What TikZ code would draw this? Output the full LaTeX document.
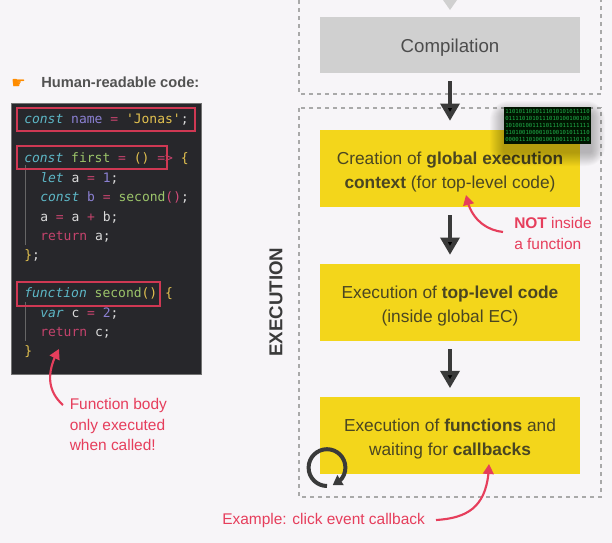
\documentclass[tikz,border=0pt]{standalone}
\usepackage{fontspec}
\setmainfont{Liberation Sans}
\setmonofont{DejaVu Sans Mono}
\newfontfamily\handfont{DejaVu Sans}
\usetikzlibrary{positioning, arrows.meta, bending}

\definecolor{bgcol}{HTML}{F7F5F8}
\definecolor{dashcol}{HTML}{A9A9A9}
\definecolor{graycol}{HTML}{D0D0D0}
\definecolor{yellowcol}{HTML}{F3D61B}
\definecolor{inkcol}{HTML}{4A4622}
\definecolor{darkcol}{HTML}{3A3A3A}
\definecolor{redcol}{HTML}{E63E5C}
\definecolor{panelcol}{HTML}{27272B}
\definecolor{cyancol}{HTML}{5DB7C6}
\definecolor{purplecol}{HTML}{8B80D2}
\definecolor{pinkcol}{HTML}{C4436C}
\definecolor{goldcol}{HTML}{E2C14F}
\definecolor{greencol}{HTML}{9CC56A}
\definecolor{whitecol}{HTML}{DADADA}
\definecolor{bincol}{HTML}{1FB14A}

\newcommand{\kw}[1]{\textcolor{cyancol}{\textit{#1}}}
\newcommand{\vr}[1]{\textcolor{purplecol}{#1}}
\newcommand{\op}[1]{\textcolor{pinkcol}{#1}}
\newcommand{\gd}[1]{\textcolor{goldcol}{#1}}
\newcommand{\fn}[1]{\textcolor{greencol}{#1}}
\newcommand{\wh}[1]{\textcolor{whitecol}{#1}}

\begin{document}
\begin{tikzpicture}[x=0.75pt, y=-0.75pt, >={Triangle[width=14pt,length=13pt]},
					flowbox/.style={minimum width=195pt, inner sep=0pt, align=center, font=\fontsize{13}{18}\selectfont},
					graybox/.style={flowbox, fill=graycol, minimum height=42pt, text=black!70, font=\fontsize{14}{18}\selectfont, execute at begin node={\rule{0pt}{13.5pt}}},
					yellowbox/.style={flowbox, fill=yellowcol, minimum height=58pt, text=inkcol, execute at begin node={\rule{0pt}{32.5pt}}},
					dashbox/.style={draw=dashcol, line width=1.1pt, dash pattern=on 3pt off 3pt},
					flow/.style={->, draw=darkcol, line width=3.3pt, shorten >=6.5pt, shorten <=6pt},
					codeline/.style={anchor=base west, inner sep=0pt, text=whitecol, font=\ttfamily\fontsize{9.75}{12}\selectfont},
					mark box/.style={draw=redcol!90!black, line width=2.2pt},
					note/.style={text=redcol, align=left, inner sep=0pt, font=\fontsize{11.6}{15.5}\selectfont},
					curved/.style={->, draw=redcol, line width=1.6pt, >={Triangle[width=8pt,length=7.5pt]}} ]

	\fill[bgcol] (0,0) rectangle (612,543);
	\useasboundingbox (0,0) rectangle (612,543);

	%dashed frames
	\draw[dashbox] (299,0) -- (299,94) -- (601,94) -- (601,0);
	\draw[dashbox] (299,108) rectangle (601,497);
	\fill[graycol] (443,0) -- (457,0) -- (450,10) -- cycle;

	%left column
	\node[inner sep=0pt, text=orange!90!yellow, font=\handfont\fontsize{12}{12}\selectfont] (hand) at (18.5,83.5) {☛};
	\node[anchor=west, inner sep=0pt, text=black!68, font=\bfseries\fontsize{11}{14}\selectfont] (title) at (41,82) {Human-readable code:};

	\node[fill=panelcol, draw=black!55, line width=.4pt, minimum width=142.5pt, minimum height=203pt, inner sep=0pt] (panel) at (106,238.5) {};
	\draw[black!60, line width=.4pt] (25,165) -- (25,245);
	\draw[black!60, line width=.4pt] (25,302) -- (25,341);

	\node[codeline] (line1) at (24,123.5) {\kw{const} \vr{name} \op{=} \gd{'Jonas'}\wh{;}};
	\node[codeline] (line2) at (24,162.5) {\kw{const} \fn{first} \op{=} \gd{()} \op{=>} \gd{\{}};
	\node[codeline] (line3) at (40,182) {\kw{let} a \op{=} \vr{1}\wh{;}};
	\node[codeline] (line4) at (40,201.5) {\kw{const} \vr{b} \op{=} \fn{second}\textcolor{purple!70!white}{()}\wh{;}};
	\node[codeline] (line5) at (40,221) {a \op{=} a \op{+} b\wh{;}};
	\node[codeline] (line6) at (40,240) {\op{return} a\wh{;}};
	\node[codeline] (line7) at (24,259) {\gd{\}}\wh{;}};
	\node[codeline] (line8) at (24,297.5) {\kw{function} \fn{second}\gd{()} \gd{\{}};
	\node[codeline] (line9) at (40,317) {\kw{var} c \op{=} \vr{2}\wh{;}};
	\node[codeline] (line10) at (40,336.5) {\op{return} c\wh{;}};
	\node[codeline] (line11) at (24,355.5) {\gd{\}}};

	\draw[mark box] (17,108) rectangle (195,131);
	\draw[mark box] (17,146) rectangle (167,169);
	\draw[mark box] (17,282) rectangle (160,306);

	\node[note, anchor=north west] (bodynote) at (69.5,398) {Function body\\only executed\\when called!};
	\coordinate (bodytip) at (59,349);
	\coordinate (bodyfoot) at (63,405);
	\draw[curved] (bodyfoot) .. controls (46,390) and (47,370) .. (bodytip);

	%flow
	\node[graybox] (compile) at (450,45) {Compilation};
	\node[yellowbox, below=92.6pt of compile.center, anchor=center] (creation) {Creation of \textbf{global execution}\\\textbf{context} (for top-level code)};
	\node[yellowbox, below=100.5pt of creation.center, anchor=center] (toplevel) {Execution of \textbf{top-level code}\\(inside global EC)};
	\node[yellowbox, below=100pt of toplevel.center, anchor=center] (functions) {Execution of \textbf{functions} and\\waiting for \textbf{callbacks}};

	\path[flow]
		(compile) edge (creation)
		(creation) edge (toplevel)
		(toplevel) edge (functions);

	\node[rotate=90, inner sep=0pt, text=darkcol, font=\bfseries\fontsize{14}{16}\selectfont] (execution) at (276,302) {EXECUTION};

	%binary block
	\foreach \s in {1,...,14}
		\fill[black, opacity=.018, rounded corners=\s pt] (504-\s,107-\s+8) rectangle (591+\s,144+\s+8);
	\node[fill=black!92!green, minimum width=65pt, minimum height=28pt, inner sep=0pt, align=left, text=bincol, font=\ttfamily\fontsize{4.2}{5.2}\selectfont] (binary) at (547.5,125.5) {1101011010111010101011110\\0111101010111010100100100\\1010010011110111011111111\\1101001000010100101011110\\0000111010010010011110110};

	%notes
	\node[note, anchor=north west] (notnote) at (514,217.5) {\textbf{NOT} inside\\a function};
	\coordinate (nottail) at (503,232);
	\coordinate (nottip) at (466,195);
	\draw[curved] (nottail) .. controls (485,230) and (470,218) .. (nottip);

	\node[note, anchor=west] (clicknote) at (222,520) {Example: click event callback};
	\coordinate (clicktail) at (436,520);
	\coordinate (clicktip) at (489,464);
	\draw[curved] (clicktail) .. controls (470,518) and (488,505) .. (clicktip);

	%loop
	\coordinate (loopstart) at (327,486);
	\draw[draw=darkcol, line width=3pt, -{Triangle[width=8.5pt,length=7pt]}] (loopstart) arc[start angle=270, end angle=-72, radius=13.8pt];
\end{tikzpicture}
\end{document}
